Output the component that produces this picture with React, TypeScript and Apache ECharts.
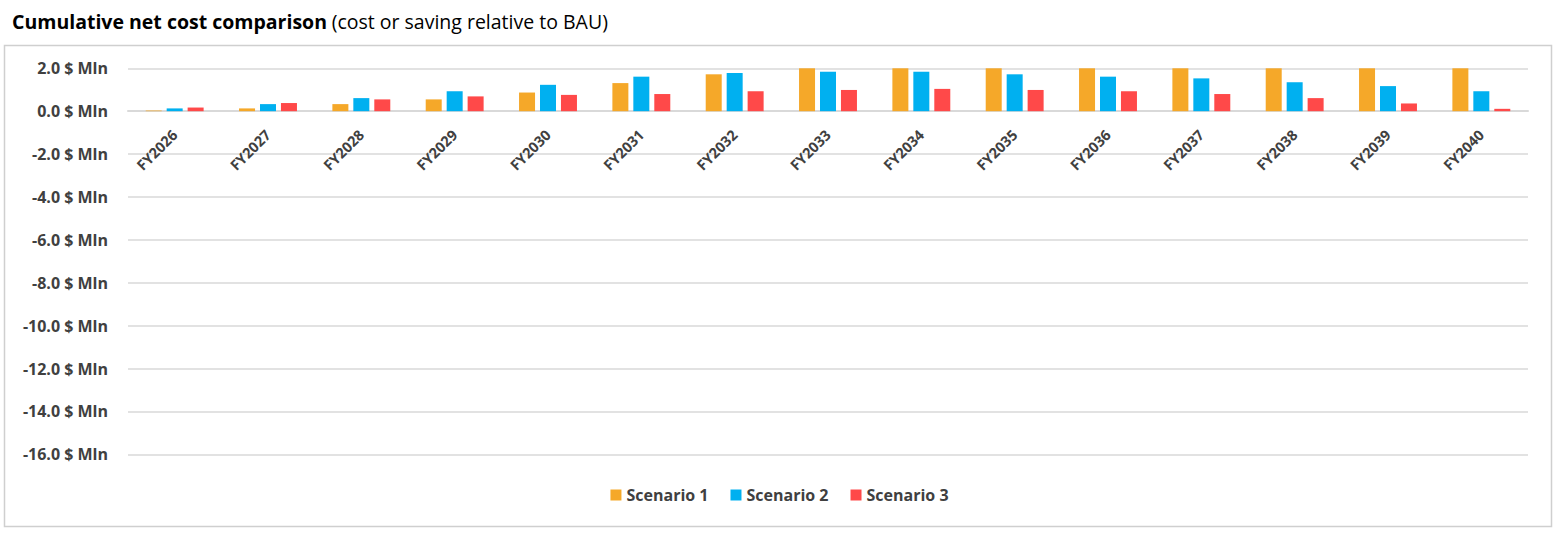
import React, { useEffect, useRef } from "react";
import * as echarts from "echarts";

const categories = [
  "FY2026", "FY2027", "FY2028", "FY2029", "FY2030", "FY2031", "FY2032", "FY2033",
  "FY2034", "FY2035", "FY2036", "FY2037", "FY2038", "FY2039", "FY2040",
];
// Scenario 1 values above 2.0 are clipped at the top of the chart in the reference
const scenario1 = [0.03, 0.13, 0.33, 0.55, 0.87, 1.31, 1.72, 2.1, 2.4, 2.7, 2.9, 3.1, 3.3, 3.4, 3.5];
const scenario2 = [0.13, 0.33, 0.61, 0.93, 1.23, 1.61, 1.78, 1.84, 1.84, 1.72, 1.61, 1.53, 1.35, 1.17, 0.93];
const scenario3 = [0.17, 0.38, 0.55, 0.69, 0.76, 0.8, 0.93, 0.99, 1.04, 0.99, 0.93, 0.8, 0.61, 0.36, 0.11];
const seriesNames = ["Scenario 1", "Scenario 2", "Scenario 3"];
const seriesColors = ["#F5A829", "#00B0F0", "#FF4949"];
const yMin = -16;
const yMax = 2;
const yStep = 2;

const FONT = "'Open Sans', 'Noto Sans', sans-serif";
const TXT = "#404040";

export default function App() {
  const ref = useRef<HTMLDivElement>(null);
  useEffect(() => {
    if (!ref.current) return;
    const chart = echarts.init(ref.current, null, { renderer: "svg" });
    const data = [scenario1, scenario2, scenario3];
    const gridLeft = 128;
    const gridRight = 31;
    const gridTop = 68.3;
    const gridBottom = 105.7;
    const plotH = 560 - gridTop - gridBottom;
    const zeroY = gridTop + (plotH * (yMax - 0)) / (yMax - yMin);
    chart.setOption({
      animation: false,
      backgroundColor: "#ffffff",
      textStyle: { fontFamily: FONT },
      title: {
        left: 7,
        top: 6,
        text: "{b|Cumulative net cost comparison} {n|(cost or saving relative to BAU)}",
        textStyle: {
          rich: {
            b: { fontFamily: FONT, fontSize: 19.5, fontWeight: "bold", color: "#000000" },
            n: { fontFamily: FONT, fontSize: 19.5, fontWeight: "normal", color: "#000000" },
          },
        },
      },
      graphic: [
        {
          type: "rect",
          shape: { x: 4.5, y: 45.5, width: 1547, height: 481 },
          style: { fill: "none", stroke: "#cfcfcf", lineWidth: 1.5 },
          silent: true,
          z: -1,
        },
      ],
      legend: {
        left: "center",
        top: 482,
        itemWidth: 11,
        itemHeight: 11,
        itemGap: 22,
        icon: "rect",
        textStyle: { fontFamily: FONT, fontSize: 16, fontWeight: "bold", color: TXT },
        data: seriesNames,
      },
      grid: [
        { left: gridLeft, right: gridRight, top: gridTop, bottom: gridBottom, containLabel: false },
        { left: gridLeft, right: gridRight, top: gridTop, height: zeroY - gridTop, containLabel: false },
      ],
      xAxis: [
        {
          type: "category",
          gridIndex: 0,
          data: categories,
          axisLine: { show: false },
          axisTick: { show: false },
          axisLabel: { show: false },
        },
        {
          type: "category",
          gridIndex: 1,
          data: categories,
          position: "bottom",
          axisLine: { show: true, lineStyle: { color: "#d9d9d9", width: 2 } },
          axisTick: { show: false },
          axisLabel: {
            rotate: 45,
            margin: 21,
            fontFamily: FONT,
            fontSize: 14.5,
            fontWeight: "bold",
            color: TXT,
          },
        },
      ],
      yAxis: [
        {
          type: "value",
          gridIndex: 0,
          min: yMin,
          max: yMax,
          interval: yStep,
          axisLine: { show: false },
          axisTick: { show: false },
          splitLine: { lineStyle: { color: "#d9d9d9", width: 1.5 } },
          axisLabel: {
            margin: 20,
            fontFamily: FONT,
            fontSize: 16,
            fontWeight: "bold",
            color: TXT,
            formatter: (v: number) => v.toFixed(1) + " $ Mln",
          },
        },
        {
          type: "value",
          gridIndex: 1,
          min: 0,
          max: yMax,
          show: false,
        },
      ],
      series: seriesNames.map((name, i) => ({
        name,
        type: "bar",
        xAxisIndex: 0,
        yAxisIndex: 0,
        data: data[i],
        barWidth: 16,
        barGap: "31%",
        clip: true,
        z: 3,
        itemStyle: { color: seriesColors[i] },
      })),
    });
    return () => chart.dispose();
  }, []);
  return (
    <div
      ref={ref}
      style={{ position: "absolute", left: 0, top: 0, width: 1559, height: 560 }}
    />
  );
}
